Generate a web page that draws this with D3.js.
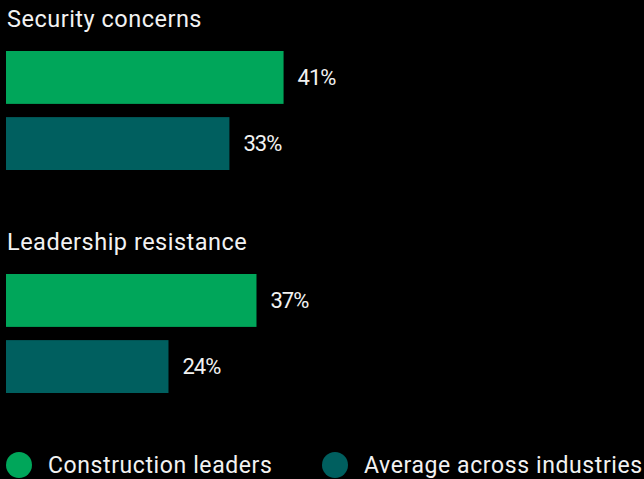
<!DOCTYPE html>
<html>
<head>
<meta charset="utf-8">
<script src="https://cdn.jsdelivr.net/npm/d3@7"></script>
<style>
  html, body { margin: 0; padding: 0; background: #000; }
  svg { display: block; }
  text { font-family: Roboto, "Noto Sans", sans-serif; fill: #f2f2f2; }
</style>
</head>
<body>
<div id="container"></div>
<script>
// chart data
const categories = ['Security concerns', 'Leadership resistance'];
const seriesNames = ['Construction leaders', 'Average across industries'];
const constructionLeaders = [41, 37];
const averageIndustries = [33, 24];
const seriesColors = ['#00a65a', '#005f5f'];

// svg dimensions
const w = 644;
const h = 479;

const svg = d3.select('#container')
    .append('svg')
    .attr('width', w)
    .attr('height', h);

// scales
const xScale = d3.scaleLinear()
    .domain([0, 10])
    .range([0, 67.7]);

const groupScale = d3.scaleBand()
    .domain(categories)
    .range([0, 446]);

const barScale = d3.scaleBand()
    .domain(seriesNames)
    .range([51, 170])
    .paddingInner(0.2);

const rows = categories.map((c, i) => ({
    category: c,
    values: [constructionLeaders[i], averageIndustries[i]]
}));

const groups = svg.selectAll('.group')
    .data(rows)
    .enter()
    .append('g')
    .attr('class', 'group')
    .attr('transform', d => `translate(6, ${groupScale(d.category)})`);

// category titles
groups.append('text')
    .attr('x', 1)
    .attr('y', 27)
    .style('font-size', '23.5px')
    .style('letter-spacing', '0.5px')
    .text(d => d.category);

// bars
groups.selectAll('rect')
    .data(d => d.values.map((v, j) => ({ v, s: seriesNames[j], color: seriesColors[j] })))
    .enter()
    .append('rect')
    .attr('x', 0)
    .attr('y', d => barScale(d.s))
    .attr('width', d => xScale(d.v))
    .attr('height', barScale.bandwidth())
    .attr('fill', d => d.color);

// value labels
groups.selectAll('.value')
    .data(d => d.values.map((v, j) => ({ v, s: seriesNames[j] })))
    .enter()
    .append('text')
    .attr('class', 'value')
    .attr('x', d => xScale(d.v) + 14)
    .attr('y', d => barScale(d.s) + barScale.bandwidth() / 2)
    .attr('dy', '0.36em')
    .style('font-size', '22px')
    .style('letter-spacing', '-1px')
    .text(d => d.v + '%');

// legend
const legendX = [19, 335];
const legend = svg.selectAll('.legend')
    .data(seriesNames)
    .enter()
    .append('g')
    .attr('class', 'legend')
    .attr('transform', (d, i) => `translate(${legendX[i]}, 465)`);

legend.append('circle')
    .attr('r', 13)
    .attr('fill', (d, i) => seriesColors[i]);

legend.append('text')
    .attr('x', 29)
    .attr('y', 8)
    .style('font-size', '23px')
    .style('letter-spacing', '0.6px')
    .text(d => d);
</script>
</body>
</html>
